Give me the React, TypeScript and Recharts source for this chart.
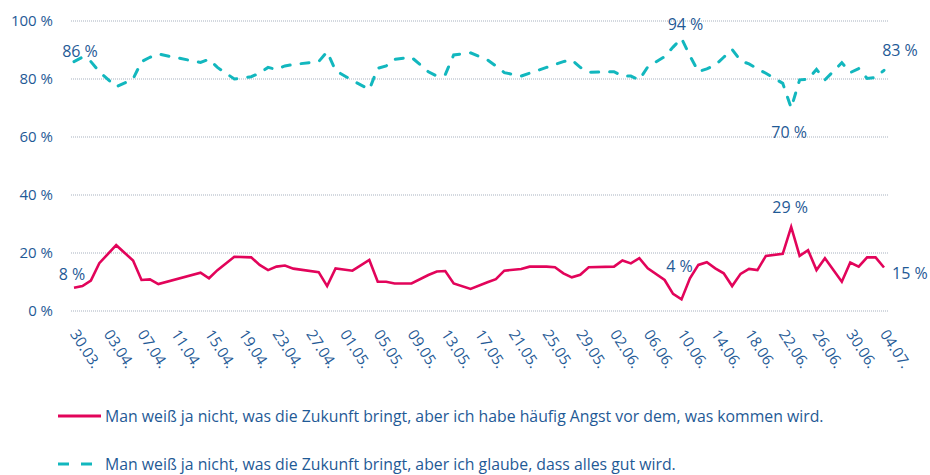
import React from 'react';
import { LineChart, Line, XAxis, YAxis, CartesianGrid } from 'recharts';

// days since 30.03. on which the survey ran
const surveyDays = [
  0, 1, 2, 3, 5, 7, 8, 9, 10, 15, 16, 17, 19, 21, 22, 23, 24, 25, 26, 29, 30, 31, 33, 35, 36,
  37, 38, 40, 42, 43, 44, 45, 47, 49, 50, 51, 53, 54, 56, 57, 58, 59, 60, 61, 64, 65, 66, 67,
  68, 70, 71, 72, 73, 74, 75, 76, 77, 78, 79, 80, 81, 82, 84, 85, 86, 87, 88, 89, 91, 92, 93,
  94, 95, 96,
];

const anxious = [
  8, 8.6, 10.5, 16.5, 22.7, 17.4, 10.7, 10.9, 9.3, 13.2, 11.3, 14.1, 18.7, 18.5, 15.9, 14.1,
  15.3, 15.7, 14.6, 13.4, 8.6, 14.7, 13.9, 17.6, 10.1, 10.1, 9.5, 9.5, 12.4, 13.6, 13.8, 9.5,
  7.6, 9.9, 11, 13.9, 14.5, 15.3, 15.3, 15.1, 13, 11.6, 12.5, 15.1, 15.3, 17.4, 16.4, 18.2,
  14.7, 10.7, 5.9, 4, 11.3, 15.9, 16.8, 14.7, 13, 8.6, 12.8, 14.5, 14.1, 19, 19.7, 29, 19,
  21, 14.1, 18.2, 10.1, 16.7, 15.3, 18.5, 18.5, 15,
];

const optimistic = [
  86, 87.5, 86, 82.5, 77.3, 80, 86, 87.5, 88.6, 85.7, 86.8, 84, 80, 80.8, 82, 84, 83.3, 84.5,
  85, 86, 89.4, 82.9, 79.5, 76.4, 83.7, 84.5, 86.8, 87.5, 82.5, 81, 81.5, 88.3, 89, 86.6, 84.5,
  82.2, 81, 82, 84, 85, 86, 86.6, 84, 82.3, 82.5, 81, 81, 79.7, 84.2, 87.7, 91, 94, 88, 82.5,
  83.5, 84.8, 87.5, 90.2, 86.3, 85.2, 83.5, 82, 78.5, 70, 79.7, 79.9, 83.3, 79.7, 85.6, 82.2,
  83.6, 80.2, 80.5, 83,
];

const yTicks = [0, 20, 40, 60, 80, 100];
const xTicks = [0, 4, 8, 12, 16, 20, 24, 28, 32, 36, 40, 44, 48, 52, 56, 60, 64, 68, 72, 76, 80, 84, 88, 92, 96];

const anxiousName =
  'Man weiß ja nicht, was die Zukunft bringt, aber ich habe häufig Angst vor dem, was kommen wird.';
const optimisticName =
  'Man weiß ja nicht, was die Zukunft bringt, aber ich glaube, dass alles gut wird.';

const RED = '#e2045a';
const TEAL = '#12b7be';
const BLUE = '#1f5a96';
const FONT = '"Open Sans", sans-serif';

const data = surveyDays.map((day, i) => ({ day, anxious: anxious[i], optimistic: optimistic[i] }));

const lastIdx = surveyDays.length - 1;
const redMin = anxious.indexOf(Math.min(...anxious));
const redMax = anxious.indexOf(Math.max(...anxious));
const tealMin = optimistic.indexOf(Math.min(...optimistic));
const tealMax = optimistic.indexOf(Math.max(...optimistic));

// label offsets for the annotated points
const redLabels: Record<number, [number, number, string]> = {
  0: [-2, -14, 'middle'],
  [redMin]: [-2, -33, 'middle'],
  [redMax]: [-1, -20, 'middle'],
  [lastIdx]: [8, 5, 'start'],
};
const tealLabels: Record<number, [number, number, string]> = {
  0: [6, -11, 'middle'],
  [tealMax]: [4, -14, 'middle'],
  [tealMin]: [-2, 24, 'middle'],
  [lastIdx]: [16, -20, 'middle'],
};

function formatDate(day: number) {
  const d = new Date(Date.UTC(2020, 2, 30) + day * 86400000);
  const dd = String(d.getUTCDate()).padStart(2, '0');
  const mm = String(d.getUTCMonth() + 1).padStart(2, '0');
  return `${dd}.${mm}.`;
}

const makeLabel = (map: Record<number, [number, number, string]>) => (props: any) => {
  const { x, y, index, value } = props;
  const cfg = map[index];
  if (!cfg || value == null) return null;
  return (
    <text
      key={`l-${index}`}
      x={x + cfg[0]}
      y={y + cfg[1]}
      textAnchor={cfg[2] as any}
      dominantBaseline="central"
      fill={BLUE}
      fontSize={16}
      fontFamily={FONT}
    >
      {`${Math.round(value)} %`}
    </text>
  );
};

const DateTick = ({ x, y, payload }: any) => {
  const tx = x - 4.5;
  const ty = y + 15;
  return (
    <text
      x={tx}
      y={ty}
      transform={`rotate(57 ${tx} ${ty})`}
      textAnchor="start"
      fill={BLUE}
      fontSize={15}
      fontFamily={FONT}
    >
      {formatDate(payload.value)}
    </text>
  );
};

function LegendRow({ color, dashed, label, top }: { color: string; dashed?: boolean; label: string; top: number }) {
  return (
    <div style={{ position: 'absolute', left: 57, top, display: 'flex', alignItems: 'center', height: 20 }}>
      <svg width={48} height={10}>
        <line
          x1={1}
          y1={5}
          x2={44}
          y2={5}
          stroke={color}
          strokeWidth={3}
          strokeDasharray={dashed ? '11 12' : undefined}
        />
      </svg>
      <span style={{ color: BLUE, fontSize: 15.8, fontFamily: FONT, whiteSpace: 'nowrap' }}>{label}</span>
    </div>
  );
}

export default function App() {
  return (
    <div style={{ position: 'absolute', left: 0, top: 0, width: 930, height: 475, background: '#fff' }}>
      <LineChart
        width={930}
        height={380}
        data={data}
        margin={{ top: 21, right: 42, left: 0, bottom: 0 }}
      >
        <CartesianGrid vertical={false} stroke="#a7b1bf" strokeDasharray="1 1" />
        <XAxis
          type="number"
          dataKey="day"
          domain={[0, 96]}
          ticks={xTicks}
          interval={0}
          height={69}
          padding={{ left: 3, right: 4 }}
          axisLine={false}
          tickLine={false}
          tick={<DateTick />}
        />
        <YAxis
          type="number"
          domain={[0, 100]}
          ticks={yTicks}
          width={71}
          axisLine={false}
          tickLine={false}
          tickMargin={12}
          tickFormatter={(v: number) => `${v} %`}
          tick={{ fill: BLUE, fontSize: 15, fontFamily: FONT }}
        />
        <Line
          type="linear"
          dataKey="optimistic"
          stroke={TEAL}
          strokeWidth={3}
          strokeDasharray="8 11"
          strokeLinecap="round"
          dot={false}
          isAnimationActive={false}
          label={makeLabel(tealLabels)}
        />
        <Line
          type="linear"
          dataKey="anxious"
          stroke={RED}
          strokeWidth={2.6}
          dot={false}
          isAnimationActive={false}
          label={makeLabel(redLabels)}
        />
      </LineChart>
      <LegendRow color={RED} label={anxiousName} top={406} />
      <LegendRow color={TEAL} dashed label={optimisticName} top={454} />
    </div>
  );
}
